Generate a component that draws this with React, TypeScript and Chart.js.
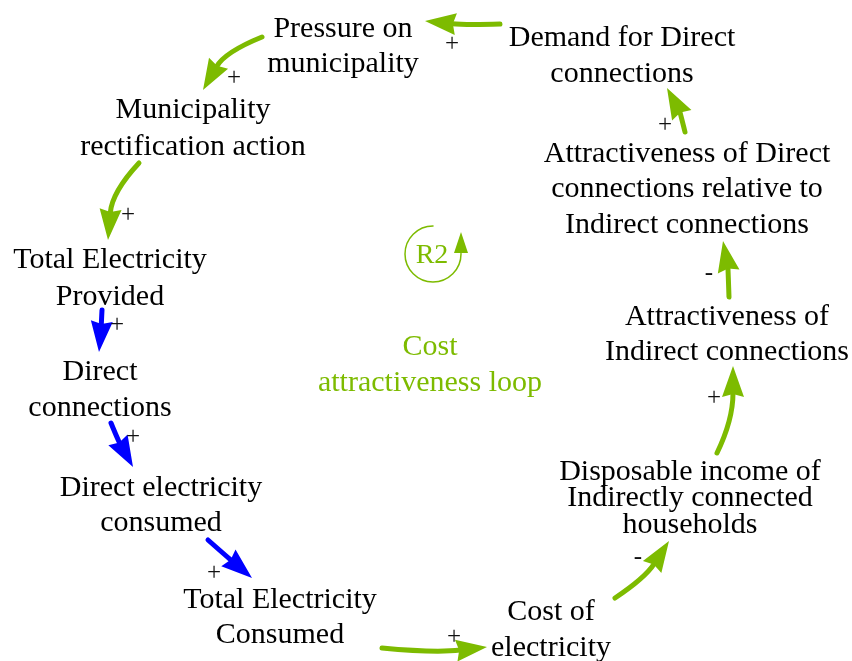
import React, { useEffect, useRef } from "react";
import { Chart, registerables } from "chart.js";

Chart.register(...registerables);

// Variables of the causal loop diagram (label lines separated by \n)
const nodeLabels = [
  "Pressure on\nmunicipality",
  "Demand for Direct\nconnections",
  "Municipality\nrectification action",
  "Total Electricity\nProvided",
  "Direct\nconnections",
  "Direct electricity\nconsumed",
  "Total Electricity\nConsumed",
  "Cost of\nelectricity",
  "Disposable income of\nIndirectly connected\nhouseholds",
  "Attractiveness of\nIndirect connections",
  "Attractiveness of Direct\nconnections relative to\nIndirect connections",
];
const nodeX = [343, 622, 193, 110, 100, 161, 280, 551, 690, 727, 687];
const nodeY = [29, 38, 110, 260, 372, 488, 600, 612, 472, 317, 154];
const nodeLineGap = [35, 36, 37, 37, 36, 35, 35, 36, 26.5, 35, 35.5];

// Causal links: start, bend, tip, polarity
const linkStartX = [500, 262, 139, 102, 111, 208, 382, 615, 717, 729, 685];
const linkStartY = [24, 37, 163, 310, 423, 540, 648, 598, 453, 297, 132];
const linkBendX = [465, 225, 112, 101, 118, 225, 435, 645, 733, 728, 680];
const linkBendY = [25, 52, 192, 330, 440, 555, 653, 578, 420, 268, 112];
const linkTipX = [425, 203, 108, 99, 133, 252, 487, 669, 733, 723, 667];
const linkTipY = [21, 90, 240, 352, 467, 578, 647, 541, 366, 241, 88];
const linkKind = ["loop", "loop", "loop", "chain", "chain", "chain", "loop", "loop", "loop", "loop", "loop"];
const linkSign = ["+", "+", "+", "+", "+", "+", "+", "-", "+", "-", "+"];
const signX = [452, 234, 128, 117, 133, 214, 454, 638, 714, 709, 665];
const signY = [44, 78, 215, 325, 437, 573, 637, 557, 398, 273, 125];

// Loop marker
const loopName = "R2";
const loopTitle = "Cost\nattractiveness loop";
const loopCenter = [433, 254];
const loopTitlePos = [430, 347];

const GREEN = "#7dbb00";
const BLUE = "#0000ff";
const FONT = '"Liberation Serif", "Times New Roman", serif';

const diagramPlugin = {
  id: "cld",
  afterDatasetsDraw(chart: any) {
    const ctx = chart.ctx as CanvasRenderingContext2D;
    const xs = chart.scales.x;
    const ys = chart.scales.y;
    const px = (v: number) => xs.getPixelForValue(v);
    const py = (v: number) => ys.getPixelForValue(v);
    ctx.save();

    // nodes
    ctx.fillStyle = "#000";
    ctx.textAlign = "center";
    ctx.textBaseline = "middle";
    ctx.font = `30px ${FONT}`;
    nodeLabels.forEach((lab, i) => {
      lab.split("\n").forEach((line, k) => {
        ctx.fillText(line, px(nodeX[i]), py(nodeY[i]) + k * nodeLineGap[i]);
      });
    });

    // links
    for (let i = 0; i < linkStartX.length; i++) {
      const col = linkKind[i] === "chain" ? BLUE : GREEN;
      const sx = px(linkStartX[i]), sy = py(linkStartY[i]);
      const cx = px(linkBendX[i]), cy = py(linkBendY[i]);
      const ex = px(linkTipX[i]), ey = py(linkTipY[i]);
      let dx = ex - cx, dy = ey - cy;
      const d = Math.hypot(dx, dy) || 1;
      dx /= d; dy /= d;
      const L = 31, W = 22;
      const bx = ex - dx * L, by = ey - dy * L;
      ctx.strokeStyle = col;
      ctx.fillStyle = col;
      ctx.lineWidth = 5;
      ctx.lineCap = "round";
      ctx.beginPath();
      ctx.moveTo(sx, sy);
      ctx.quadraticCurveTo(cx, cy, bx + dx * 4, by + dy * 4);
      ctx.stroke();
      ctx.beginPath();
      ctx.moveTo(ex, ey);
      ctx.lineTo(bx - dy * W / 2, by + dx * W / 2);
      ctx.lineTo(bx + dx * 3, by + dy * 3);
      ctx.lineTo(bx + dy * W / 2, by - dx * W / 2);
      ctx.closePath();
      ctx.fill();
      // polarity
      ctx.fillStyle = "#111";
      ctx.font = `25px ${FONT}`;
      ctx.fillText(linkSign[i], px(signX[i]), py(signY[i]));
    }

    // loop marker
    const lx = px(loopCenter[0]), ly = py(loopCenter[1]);
    const r = 28;
    ctx.strokeStyle = GREEN;
    ctx.fillStyle = GREEN;
    ctx.lineWidth = 1.5;
    ctx.beginPath();
    ctx.arc(lx, ly, r, -Math.PI / 2, -0.02, true);
    ctx.stroke();
    ctx.beginPath();
    ctx.moveTo(lx + r, ly - 22);
    ctx.lineTo(lx + r - 7, ly - 1);
    ctx.lineTo(lx + r + 7, ly - 1);
    ctx.closePath();
    ctx.fill();
    ctx.font = `28px ${FONT}`;
    ctx.fillText(loopName, lx - 1, ly + 2);
    ctx.font = `30px ${FONT}`;
    loopTitle.split("\n").forEach((line, k) => {
      ctx.fillText(line, px(loopTitlePos[0]), py(loopTitlePos[1]) + k * 36);
    });
    ctx.restore();
  },
};

export default function App() {
  const ref = useRef<HTMLCanvasElement | null>(null);
  useEffect(() => {
    if (!ref.current) return;
    const chart = new Chart(ref.current, {
      type: "scatter",
      data: {
        datasets: [
          {
            data: nodeX.map((x, i) => ({ x, y: nodeY[i] })),
            pointRadius: 0,
            showLine: false,
          },
        ],
      },
      options: {
        animation: false,
        responsive: true,
        maintainAspectRatio: false,
        layout: { padding: 0 },
        plugins: { legend: { display: false }, tooltip: { enabled: false } },
        events: [],
        scales: {
          x: { type: "linear", min: 0, max: 852, display: false },
          y: { type: "linear", min: 0, max: 661, reverse: true, display: false },
        },
      },
      plugins: [diagramPlugin],
    });
    return () => chart.destroy();
  }, []);
  return (
    <div style={{ position: "fixed", left: 0, top: 0, width: 852, height: 661, background: "#fff" }}>
      <canvas ref={ref} />
    </div>
  );
}
